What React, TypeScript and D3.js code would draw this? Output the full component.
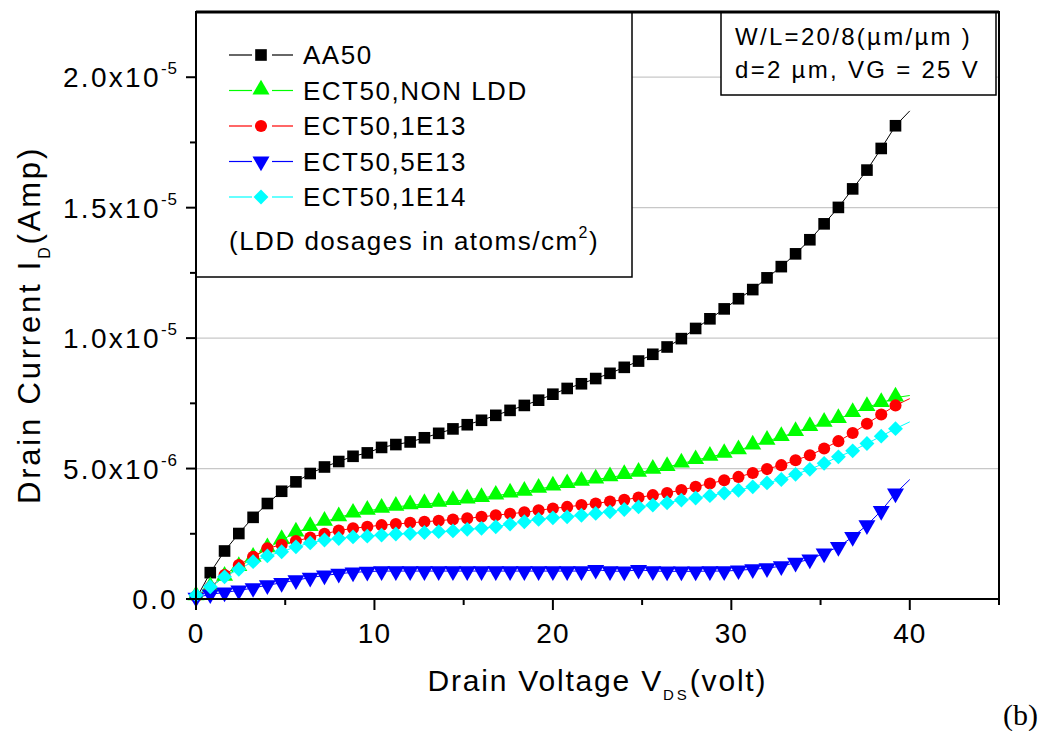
import * as d3 from 'd3'

const width = 1047
const height = 731

const margin = { top: 12, right: 48, bottom: 132, left: 196 }

// drain voltage (V) at which symbols are drawn
const volts = [
  0, 0.8, 1.6, 2.4, 3.2, 4, 4.8, 5.6, 6.4, 7.2,
  8, 8.8, 9.6, 10.4, 11.2, 12, 12.8, 13.6, 14.4, 15.2,
  16, 16.8, 17.6, 18.4, 19.2, 20, 20.8, 21.6, 22.4, 23.2,
  24, 24.8, 25.6, 26.4, 27.2, 28, 28.8, 29.6, 30.4, 31.2,
  32, 32.8, 33.6, 34.4, 35.2, 36, 36.8, 37.6, 38.4, 39.2
]
const lineEndVolt = 40

// drain current in units of 1e-6 A
const aa50 = [
  0, 1.01, 1.84, 2.51, 3.13, 3.66, 4.13, 4.49, 4.81, 5.06,
  5.27, 5.47, 5.6, 5.81, 5.92, 6.02, 6.18, 6.35, 6.52, 6.68,
  6.85, 7.04, 7.23, 7.42, 7.62, 7.85, 8.07, 8.25, 8.45, 8.65,
  8.88, 9.12, 9.38, 9.66, 9.98, 10.37, 10.74, 11.12, 11.51, 11.86,
  12.31, 12.74, 13.23, 13.77, 14.38, 15.01, 15.72, 16.44, 17.27, 18.14
]
const nonLdd = [
  0.1, 0.45, 0.85, 1.22, 1.58, 1.94, 2.26, 2.55, 2.76, 2.96,
  3.13, 3.27, 3.38, 3.46, 3.53, 3.59, 3.64, 3.69, 3.75, 3.81,
  3.87, 3.96, 4.04, 4.11, 4.22, 4.31, 4.4, 4.49, 4.58, 4.66,
  4.75, 4.84, 4.95, 5.06, 5.19, 5.32, 5.45, 5.56, 5.7, 5.88,
  6.06, 6.21, 6.4, 6.59, 6.75, 6.9, 7.13, 7.36, 7.51, 7.72
]
const e13 = [
  0.1, 0.45, 0.92, 1.3, 1.62, 1.94, 2.08, 2.22, 2.36, 2.5,
  2.62, 2.71, 2.77, 2.83, 2.87, 2.92, 2.96, 3.0, 3.05, 3.09,
  3.15, 3.21, 3.27, 3.32, 3.4, 3.47, 3.53, 3.6, 3.66, 3.74,
  3.8, 3.89, 3.98, 4.06, 4.18, 4.3, 4.43, 4.55, 4.68, 4.83,
  4.98, 5.13, 5.32, 5.51, 5.77, 6.05, 6.36, 6.72, 7.07, 7.42
]
const e5_13 = [
  0.05, 0.18, 0.25, 0.33, 0.42, 0.53, 0.62, 0.72, 0.82, 0.9,
  0.97, 1.02, 1.05, 1.07, 1.07, 1.07, 1.07, 1.07, 1.07, 1.07,
  1.07, 1.07, 1.07, 1.07, 1.07, 1.07, 1.07, 1.07, 1.12, 1.07,
  1.06, 1.12, 1.07, 1.06, 1.06, 1.06, 1.07, 1.07, 1.1, 1.14,
  1.18, 1.26, 1.39, 1.52, 1.75, 2.0, 2.38, 2.83, 3.38, 4.05
]
const e14 = [
  0.15, 0.47, 0.85, 1.14, 1.43, 1.65, 1.81, 2.0, 2.15, 2.26,
  2.32, 2.38, 2.41, 2.45, 2.49, 2.51, 2.55, 2.58, 2.61, 2.67,
  2.71, 2.77, 2.87, 2.96, 3.05, 3.11, 3.15, 3.21, 3.28, 3.34,
  3.43, 3.53, 3.6, 3.69, 3.79, 3.87, 3.96, 4.06, 4.17, 4.3,
  4.45, 4.58, 4.78, 4.97, 5.2, 5.45, 5.68, 5.96, 6.24, 6.53
]
// value where each line ends at 40 V
const lineEnds = [18.71, 7.8, 7.68, 4.58, 6.79]

const seriesNames = ['AA50', 'ECT50,NON LDD', 'ECT50,1E13', 'ECT50,5E13', 'ECT50,1E14']
const seriesValues = [aa50, nonLdd, e13, e5_13, e14]
const seriesColors = ['#000000', '#00ff00', '#ff0000', '#0000ff', '#00ffff']
const firstSymbol = [1, 0, 0, 0, 0]

const xMajor = [0, 10, 20, 30, 40]
const xMinor = [5, 15, 25, 35, 45]
const yMajor = [0, 5, 10, 15, 20]
const yMinor = [2.5, 7.5, 12.5, 17.5]
const yLabels = [
  { main: '0.0', sup: '' },
  { main: '5.0x10', sup: '-6' },
  { main: '1.0x10', sup: '-5' },
  { main: '1.5x10', sup: '-5' },
  { main: '2.0x10', sup: '-5' }
]

const font = 'Arial, "Liberation Sans", sans-serif'

function marker(i: number, x: number, y: number, color: string, key: string) {
  const t = `translate(${x},${y})`
  if (i === 0) {
    return <path key={key} d={d3.symbol(d3.symbolSquare, 135)()!} transform={t} fill={color} />
  }
  if (i === 1) {
    return <path key={key} d={d3.symbol(d3.symbolTriangle, 125)()!} transform={`${t} translate(0,-1)`} fill={color} />
  }
  if (i === 2) {
    return <path key={key} d={d3.symbol(d3.symbolCircle, 115)()!} transform={t} fill={color} />
  }
  if (i === 3) {
    return <path key={key} d={d3.symbol(d3.symbolTriangle, 125)()!} transform={`${t} rotate(180)`} fill={color} />
  }
  return <path key={key} d={d3.symbol(d3.symbolSquare, 110)()!} transform={`${t} rotate(45)`} fill={color} />
}

function App() {
  const innerWidth = width - margin.left - margin.right
  const innerHeight = height - margin.top - margin.bottom

  const xScale = d3.scaleLinear().domain([0, 45]).range([0, innerWidth])
  const yScale = d3.scaleLinear().domain([0, 22.5]).range([innerHeight, 0])

  const line = d3.line<[number, number]>()
    .x(d => xScale(d[0]))
    .y(d => yScale(d[1]))

  const legendX = 33
  const legendRowY = (i: number) => 43 + i * 35.5

  return (
    <svg width={width} height={height} style={{ position: 'absolute', left: 0, top: 0, background: '#fff' }} fontFamily={font}>
      <rect width={width} height={height} fill="#fff" />
      <g transform={`translate(${margin.left},${margin.top})`}>
        {yMajor.filter(v => v > 0).map(v => (
          <line key={'g' + v} x1={0} x2={innerWidth} y1={yScale(v)} y2={yScale(v)} stroke="#c8c8c8" strokeWidth={1.2} />
        ))}

        {seriesValues.map((vals, si) => {
          const pts: [number, number][] = volts.map((v, k) => [v, vals[k]] as [number, number])
          pts.push([lineEndVolt, lineEnds[si]])
          return (
            <path key={'l' + si} d={line(pts)!} fill="none" stroke={seriesColors[si]} strokeWidth={1} />
          )
        })}
        {seriesValues.map((vals, si) => (
          <g key={'m' + si}>
            {volts.map((v, k) => k >= firstSymbol[si]
              ? marker(si, xScale(v), yScale(vals[k]), seriesColors[si], `${si}-${k}`)
              : null)}
          </g>
        ))}

        {/* legend */}
        <rect x={0} y={0} width={436} height={265} fill="#fff" stroke="#000" strokeWidth={1.5} />
        {seriesNames.map((name, i) => (
          <g key={name}>
            <line x1={legendX} x2={legendX + 23} y1={legendRowY(i)} y2={legendRowY(i)} stroke={seriesColors[i]} strokeWidth={1.2} />
            <line x1={legendX + 43} x2={legendX + 64} y1={legendRowY(i)} y2={legendRowY(i)} stroke={seriesColors[i]} strokeWidth={1.2} />
            {marker(i, legendX + 32, legendRowY(i), seriesColors[i], 'lg' + i)}
            <text x={legendX + 74} y={legendRowY(i) + 9} fontSize={26} letterSpacing={1.5}>{name}</text>
          </g>
        ))}
        <text x={legendX} y={238} fontSize={26} letterSpacing={1.5}>
          (LDD dosages in atoms/cm<tspan dy={-12} fontSize={16}>2</tspan><tspan dy={12}>)</tspan>
        </text>

        {/* info box */}
        <rect x={525} y={0} width={275} height={83} fill="#fff" stroke="#000" strokeWidth={1.5} />
        <text x={539} y={33} fontSize={24} letterSpacing={2.3}>W/L=20/8(µm/µm )</text>
        <text x={539} y={66} fontSize={24} letterSpacing={2.3}>d=2 µm, VG = 25 V</text>

        {/* frame */}
        <rect x={0} y={0} width={innerWidth} height={innerHeight} fill="none" stroke="#000" strokeWidth={2} />
        <line x1={0} x2={innerWidth} y1={0} y2={0} stroke="#000" strokeWidth={3} />

        {/* x axis */}
        {xMajor.map(v => (
          <g key={'xt' + v} transform={`translate(${xScale(v)},${innerHeight})`}>
            <line y2={11} stroke="#000" strokeWidth={2} />
            <text y={44} textAnchor="middle" fontSize={28} letterSpacing={1}>{v}</text>
          </g>
        ))}
        {xMinor.map(v => (
          <line key={'xm' + v} x1={xScale(v)} x2={xScale(v)} y1={innerHeight} y2={innerHeight + 6} stroke="#000" strokeWidth={2} />
        ))}
        <text x={innerWidth / 2 - 170} y={innerHeight + 92} fontSize={30} letterSpacing={1.8}>
          Drain Voltage V<tspan dy={9} fontSize={15} letterSpacing={3}>DS</tspan><tspan dy={-9}>(volt)</tspan>
        </text>

        {/* y axis */}
        {yMajor.map((v, i) => (
          <g key={'yt' + v} transform={`translate(0,${yScale(v)})`}>
            <line x2={-10} stroke="#000" strokeWidth={2} />
            <text x={-18} dy="0.36em" textAnchor="end" fontSize={28} letterSpacing={2.3}>
              {yLabels[i].main}
              {yLabels[i].sup && <tspan dy={-13} fontSize={17} letterSpacing={1}>{yLabels[i].sup}</tspan>}
            </text>
          </g>
        ))}
        {yMinor.map(v => (
          <line key={'ym' + v} x1={0} x2={-6} y1={yScale(v)} y2={yScale(v)} stroke="#000" strokeWidth={2} />
        ))}
        <text transform={`translate(-156,${313}) rotate(-90)`} textAnchor="middle" fontSize={31} letterSpacing={2.8}>
          Drain Current I<tspan dy={10} fontSize={16}>D</tspan><tspan dy={-10}>(Amp)</tspan>
        </text>
      </g>
      <text x={1003} y={725} fontSize={30} fontFamily='"Liberation Serif", "Times New Roman", serif'>(b)</text>
    </svg>
  )
}

export default App
